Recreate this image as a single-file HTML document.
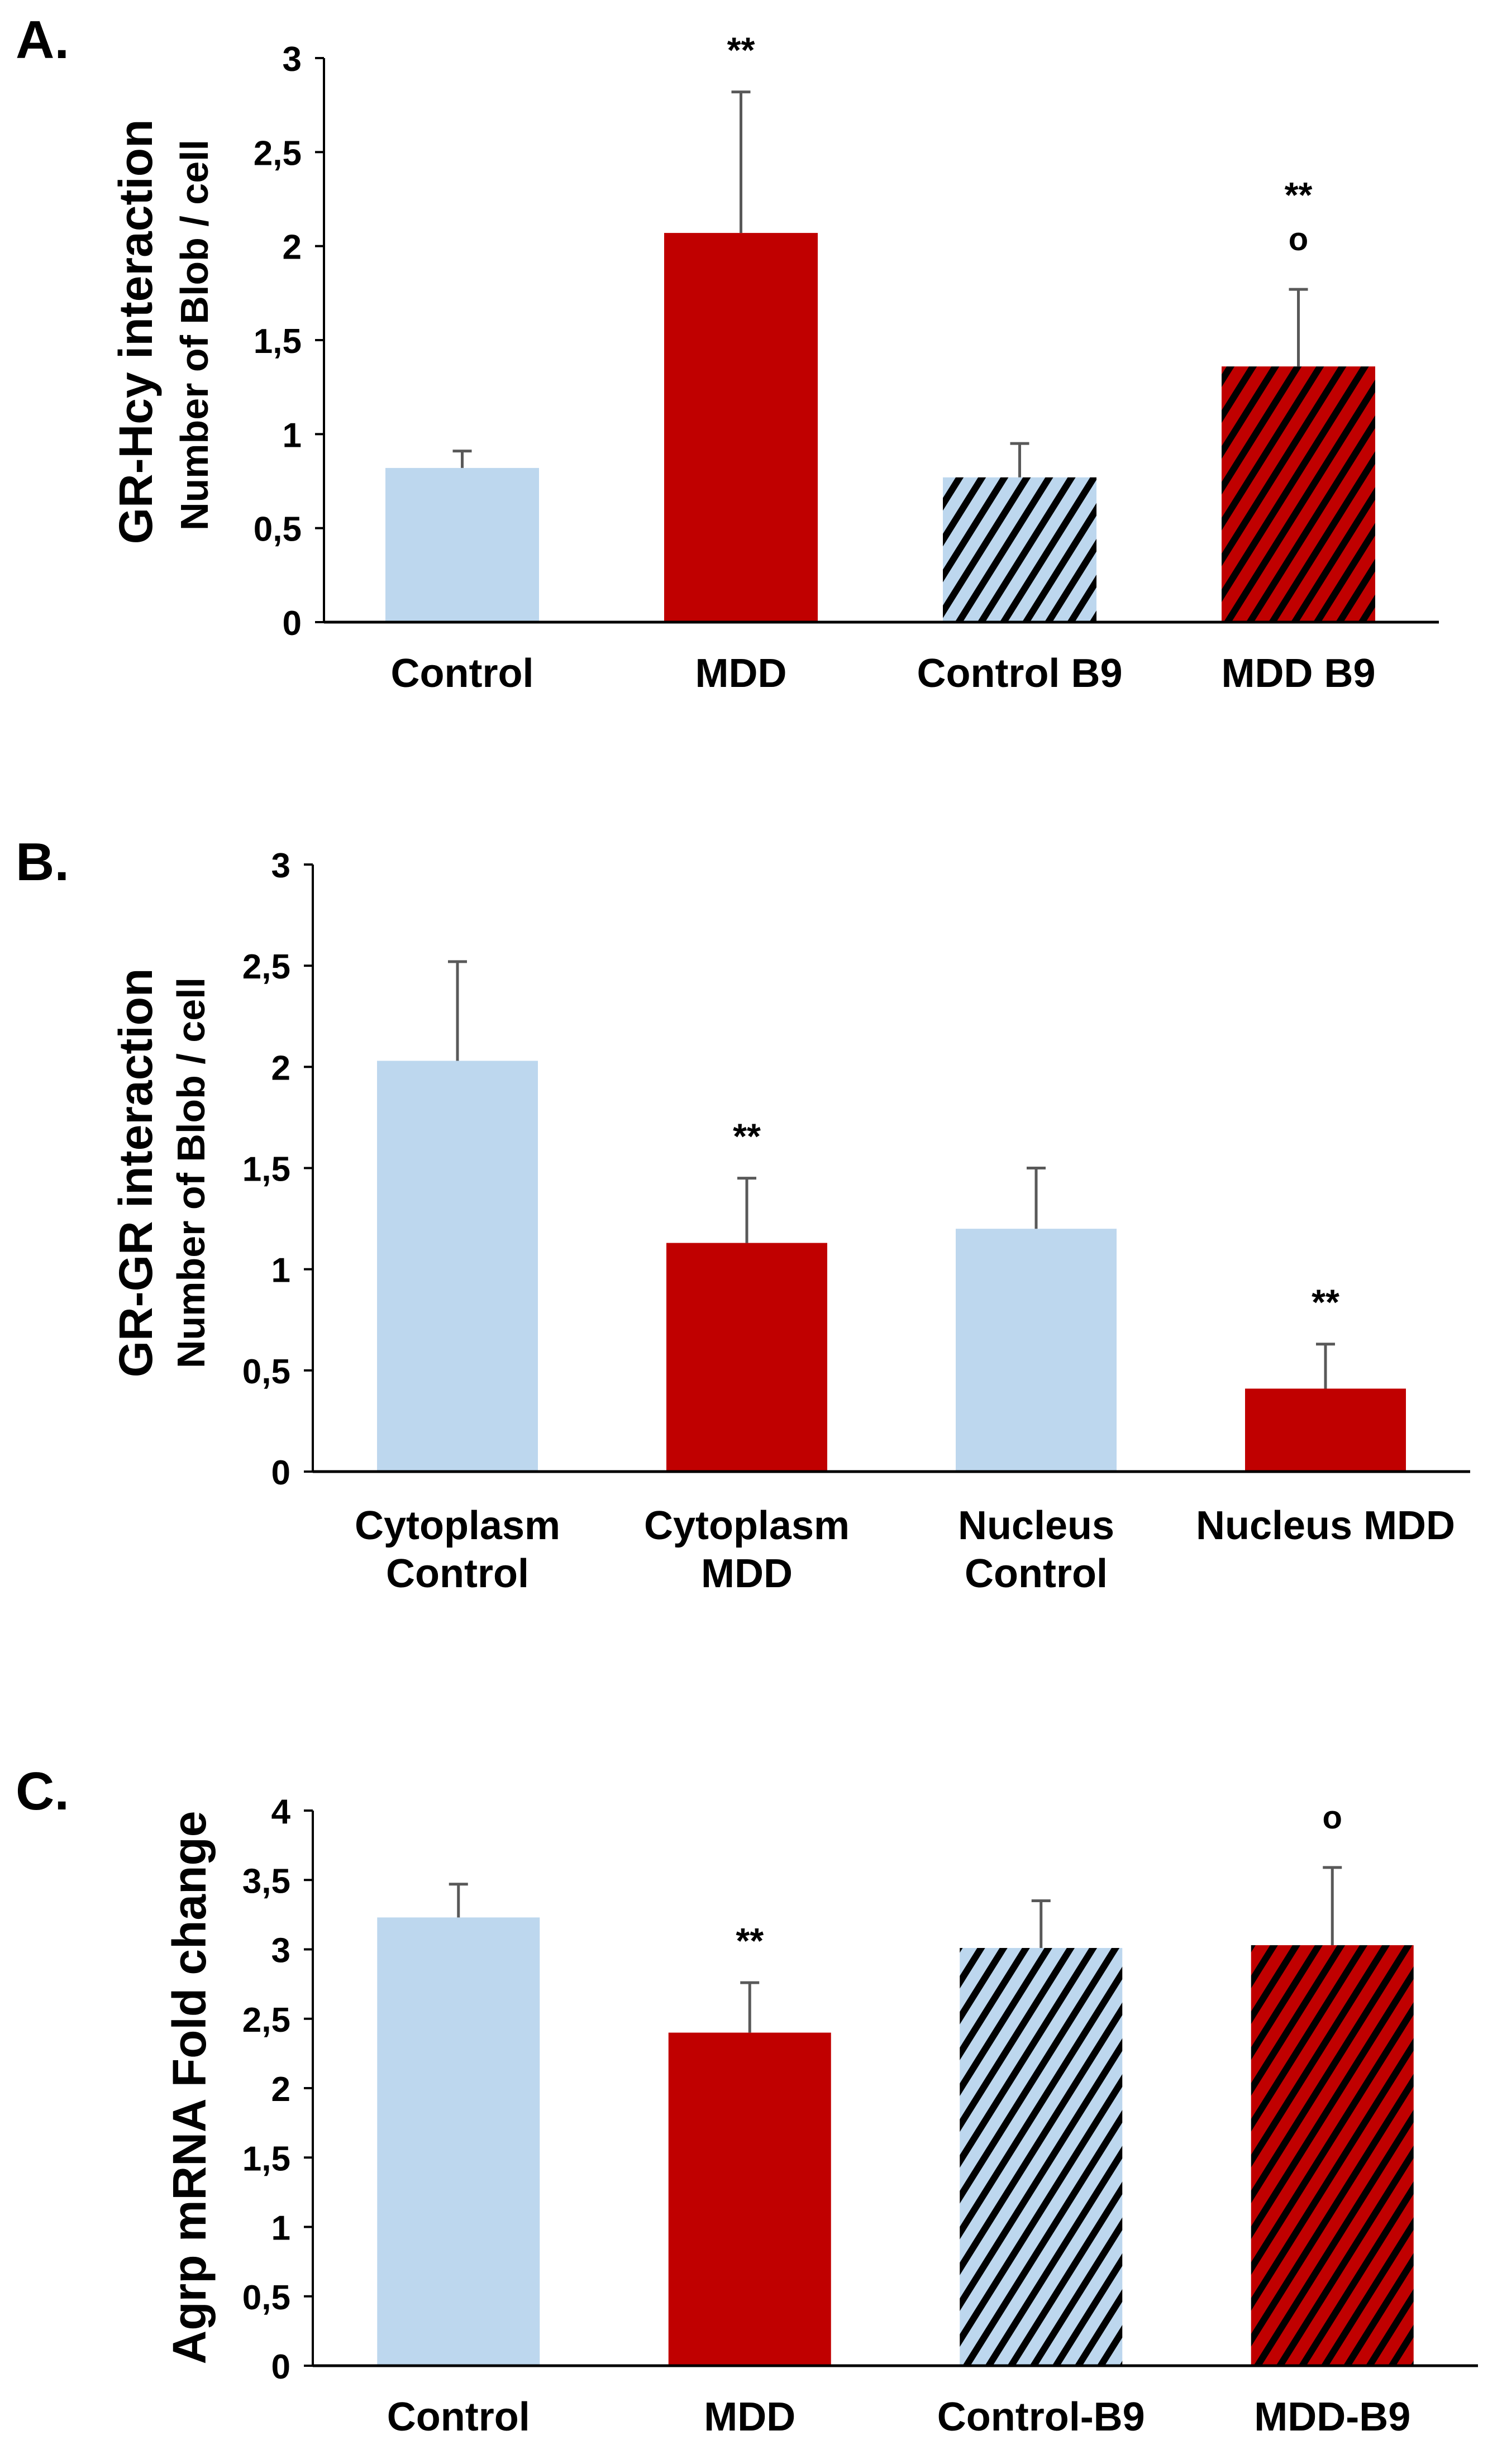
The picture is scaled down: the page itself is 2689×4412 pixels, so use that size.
<!DOCTYPE html>
<html><head><meta charset="utf-8"><style>
html,body{margin:0;padding:0;background:#fff;}
svg{display:block;}
text{font-family:"Liberation Sans",Arial,sans-serif;font-weight:bold;fill:#000;}
</style></head><body>
<svg id="fig" width="2689" height="4412" viewBox="0 0 2689 4412">
<defs>
<pattern id="hatchBlue" patternUnits="userSpaceOnUse" width="34" height="34" patternTransform="rotate(32)">
<rect width="34" height="34" fill="#bdd7ee"/><rect x="0" y="0" width="12" height="34" fill="#000"/></pattern>
<pattern id="hatchRed" patternUnits="userSpaceOnUse" width="34" height="34" patternTransform="rotate(32)">
<rect width="34" height="34" fill="#c00000"/><rect x="0" y="0" width="12" height="34" fill="#000"/></pattern>
</defs>
</svg>
<script>
// Panel A data
const aCategories = [["Control"],["MDD"],["Control B9"],["MDD B9"]];
const aValues = [0.82, 2.07, 0.77, 1.36];
const aErrors = [0.09, 0.75, 0.18, 0.41];
const aTicks = [0,0.5,1,1.5,2,2.5,3];
const aTickLabels = ["0","0,5","1","1,5","2","2,5","3"];
const aMarks = [[],["**"],[],["**","o"]];
// Panel B data
const bCategories = [["Cytoplasm","Control"],["Cytoplasm","MDD"],["Nucleus","Control"],["Nucleus MDD"]];
const bValues = [2.03, 1.13, 1.20, 0.41];
const bErrors = [0.49, 0.32, 0.30, 0.22];
const bTicks = [0,0.5,1,1.5,2,2.5,3];
const bTickLabels = ["0","0,5","1","1,5","2","2,5","3"];
const bMarks = [[],["**"],[],["**"]];
// Panel C data
const cCategories = [["Control"],["MDD"],["Control-B9"],["MDD-B9"]];
const cValues = [3.23, 2.40, 3.01, 3.03];
const cErrors = [0.24, 0.36, 0.34, 0.56];
const cTicks = [0,0.5,1,1.5,2,2.5,3,3.5,4];
const cTickLabels = ["0","0,5","1","1,5","2","2,5","3","3,5","4"];
const cMarks = [[],["**"],[],["o"]];

const NS="http://www.w3.org/2000/svg";
const svg=document.getElementById('fig');
function mk(tag,attrs,parent,txt){const e=document.createElementNS(NS,tag);for(const k in attrs)e.setAttribute(k,attrs[k]);if(txt!==undefined)e.textContent=txt;(parent||svg).appendChild(e);return e;}

function panel(cfg,cats,vals,errs,ticks,tickLabels,marks){
  const g=mk('g',{});
  
  
  const ymax=ticks[ticks.length-1];
  const y=v=>cfg.y0-(v/ymax)*(cfg.y0-cfg.yTop);
  const n=cats.length, step=(cfg.xEnd-cfg.x0)/n;
  const x=i=>cfg.x0+step*(i+0.5)+cfg.shift;
  const lab=mk('text',{x:cfg.labelX,y:cfg.labelY,'font-size':96},g,cfg.letter);
  
  
  vals.forEach((v,i)=>{
    const fill=cfg.fills[i];
    const r=mk('rect',{x:x(i)-cfg.bw/2,y:y(v),width:cfg.bw,height:cfg.y0-y(v),fill:fill},g);
    
    
    const top=y(v+errs[i]);
    const e=mk('path',{d:`M${x(i)} ${y(v)}V${top}M${x(i)-17} ${top}H${x(i)+17}`,stroke:'#595959','stroke-width':5,fill:'none'},g);
    
    
    let c=null;
    for(let k=marks[i].length-1;k>=0;k--){
      const m=marks[i][k];
      if(c===null) c = top-(m==='o'?85:95); else c-=104;
      const t=mk('text',{x:x(i),y:c+(m==='o'?15:42),'text-anchor':'middle','font-size':m==='o'?58:64},g,m);
      
      
    }
    cats[i].forEach((s,j)=>{
      const t=mk('text',{x:x(i),y:cfg.catY+j*86,'text-anchor':'middle','font-size':72},g,s);
      
      
    });
  });
  const ax=mk('path',{d:`M${cfg.x0} ${cfg.yTop}V${cfg.y0}`,stroke:'#000','stroke-width':4,fill:'none'},g);
  
  
  ticks.forEach((t,k)=>{
    mk('path',{d:`M${cfg.x0-16} ${y(t)}H${cfg.x0}`,stroke:'#000','stroke-width':4},g);
    const tl=mk('text',{x:cfg.x0-40,y:y(t)+23,'text-anchor':'end','font-size':62},g,tickLabels[k]);
    
    
  });
  const xa=mk('path',{d:`M${cfg.x0} ${cfg.y0}H${cfg.xEnd}`,stroke:'#000','stroke-width':5,fill:'none'},g);
  
  
  cfg.titles.forEach(tt=>{
    const t=mk('text',{x:0,y:0,'text-anchor':'middle','font-size':tt.size,transform:`translate(${tt.x},${tt.y}) rotate(-90)`},g,tt.text);
    
    
  });
}
const LB='#bdd7ee',RD='#c00000';
panel({name:'panel-a',letter:'A.',labelX:28,labelY:104,x0:580,xEnd:2576,yTop:104,y0:1114,bw:275,shift:-2,catY:1230,
  fills:[LB,RD,'url(#hatchBlue)','url(#hatchRed)'],
  titles:[{text:'GR-Hcy interaction',x:272,y:594,size:84},{text:'Number of Blob / cell',x:372,y:600,size:70}]},
  aCategories,aValues,aErrors,aTicks,aTickLabels,aMarks);
panel({name:'panel-b',letter:'B.',labelX:28,labelY:1576,x0:560,xEnd:2632,yTop:1548,y0:2635,bw:288,shift:0,catY:2756,
  fills:[LB,RD,LB,RD],
  titles:[{text:'GR-GR interaction',x:272,y:2100,size:84},{text:'Number of Blob / cell',x:366,y:2100,size:70}]},
  bCategories,bValues,bErrors,bTicks,bTickLabels,bMarks);
panel({name:'panel-c',letter:'C.',labelX:28,labelY:3240,x0:560,xEnd:2646,yTop:3242,y0:4236,bw:291,shift:0,catY:4352,
  fills:[LB,RD,'url(#hatchBlue)','url(#hatchRed)'],
  titles:[{text:'Agrp mRNA Fold change',x:368,y:3738,size:84}]},
  cCategories,cValues,cErrors,cTicks,cTickLabels,cMarks);
</script>
</body></html>
